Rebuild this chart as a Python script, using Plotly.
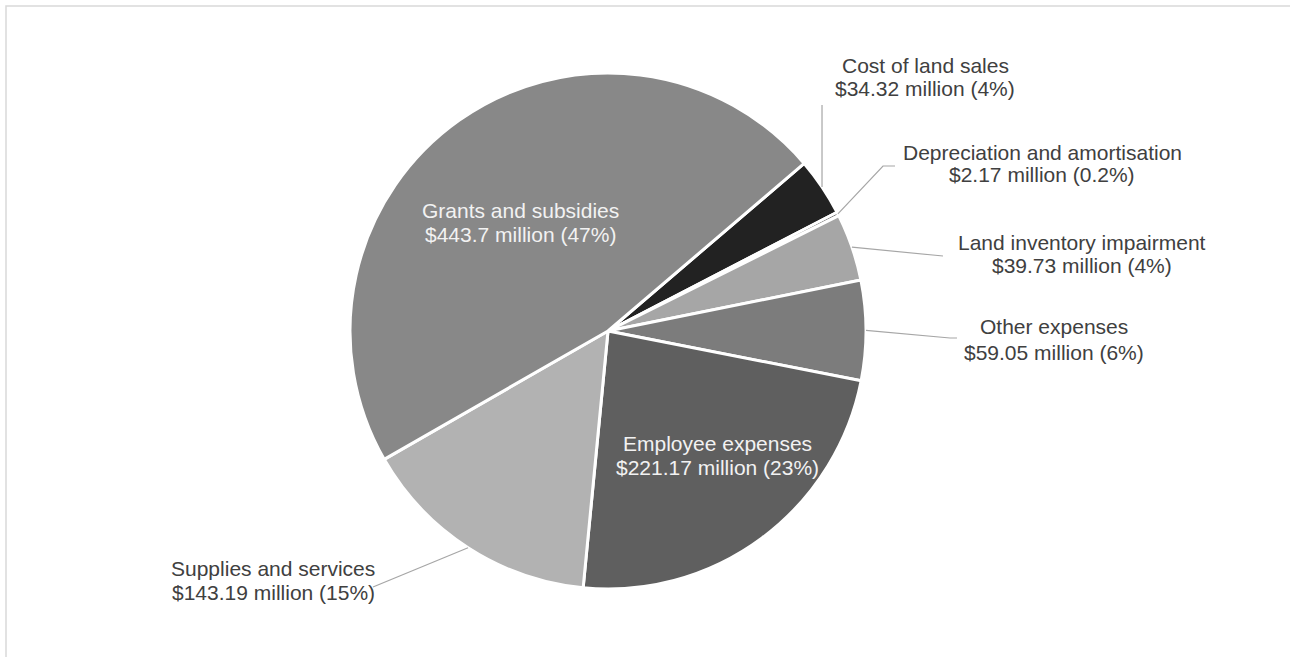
import math
import plotly.graph_objects as go

# ---- data ----
labels = ["Cost of land sales", "Depreciation and amortisation", "Land inventory impairment",
          "Other expenses", "Employee expenses", "Supplies and services", "Grants and subsidies"]
values = [34.32, 2.17, 39.73, 59.05, 221.17, 143.19, 443.7]
value_text = ["$34.32 million", "$2.17 million", "$39.73 million", "$59.05 million",
              "$221.17 million", "$143.19 million", "$443.7 million"]
pct_text = ["4%", "0.2%", "4%", "6%", "23%", "15%", "47%"]
colors = ["#222222", "#595959", "#a6a6a6", "#7c7c7c", "#5f5f5f", "#b2b2b2", "#888888"]

# ---- layout geometry (pixels) ----
W, H = 1290, 657
CX, CY, R = 608, 331, 258
ROT = 49.5
FONT = "Arial, Liberation Sans, sans-serif"
FS = 21

# label placement: centre x, line-1 y, line-2 y, inside?, leader elbow points
place = {
    "Cost of land sales": (925, 65, 88, False, [("sx", 105)]),
    "Depreciation and amortisation": (1042, 152, 175, False, [(883, 166), (895, 166)]),
    "Land inventory impairment": (1082, 242, 265, False, [(943, 256)]),
    "Other expenses": (1054, 327, 352, False, [(950, 338), (957, 338)]),
    "Employee expenses": (717, 443, 467, True, []),
    "Supplies and services": (273, 568, 592, False, [(373, 587)]),
    "Grants and subsidies": (520, 211, 234, True, []),
}


def px(x):
    return x / W


def py(y):
    return 1 - y / H


fig = go.Figure(go.Pie(
    labels=labels, values=values, sort=False, direction="clockwise", rotation=ROT,
    textinfo="none", hoverinfo="label+value+percent",
    marker=dict(colors=colors, line=dict(color="#ffffff", width=3)),
    domain=dict(x=[px(CX - R), px(CX + R)], y=[py(CY + R), py(CY - R)]),
    showlegend=False,
))

annotations = []
shapes = []
total = sum(values)
cum = 0.0
for lab, v, vt, pt in zip(labels, values, value_text, pct_text):
    mid = ROT + (cum + v / 2) / total * 360.0
    cum += v
    a = math.radians(mid)
    sx = CX + R * math.sin(a)
    sy = CY - R * math.cos(a)
    xc, y1, y2, inside, elbow = place[lab]
    col = "#f2f2f2" if inside else "#404040"
    for txt, yy in ((lab, y1), (f"{vt} ({pt})", y2)):
        annotations.append(dict(
            x=px(xc), y=py(yy), xref="paper", yref="paper", text=txt, showarrow=False,
            xanchor="center", yanchor="middle",
            font=dict(family=FONT, size=FS, color=col)))
    if elbow:
        pts = [(sx, sy)] + [((sx if ex == "sx" else ex), ey) for ex, ey in elbow]
        path = "M " + " L ".join(f"{px(x):.5f},{py(y):.5f}" for x, y in pts)
        shapes.append(dict(type="path", path=path, xref="paper", yref="paper",
                           line=dict(color="#a6a6a6", width=1.2)))

# chart-area border (top and left edges visible)
shapes.append(dict(type="rect", xref="paper", yref="paper",
                   x0=px(6), y0=py(6), x1=1.02, y1=-0.02,
                   line=dict(color="#d9d9d9", width=1.5), layer="below"))

fig.update_layout(
    width=W, height=H, margin=dict(l=0, r=0, t=0, b=0),
    paper_bgcolor="#ffffff", plot_bgcolor="#ffffff",
    annotations=annotations, shapes=shapes,
    font=dict(family=FONT),
)

fig.write_html("out.html", config={"displayModeBar": False},
               post_script="document.body.style.margin='0';document.body.style.overflow='hidden';")
